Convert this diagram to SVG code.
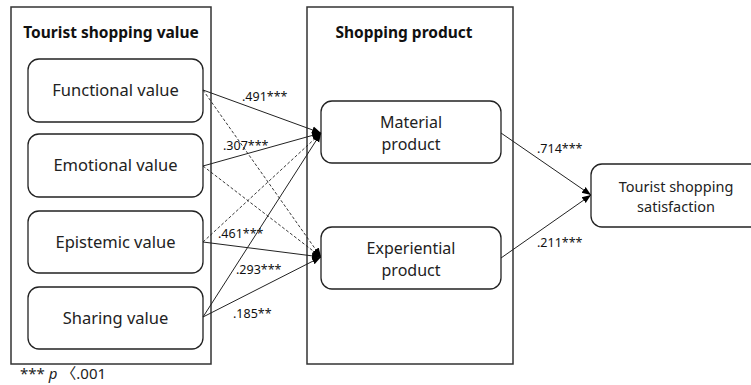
<svg xmlns="http://www.w3.org/2000/svg" width="751" height="385" viewBox="0 0 751 385">
<style>
.cont{fill:none;stroke:#333;stroke-width:1.5}
.box{fill:#fff;stroke:#222;stroke-width:1.3}
.t{font-family:"Noto Sans","Liberation Sans",sans-serif;font-size:16.5px;fill:#222;text-anchor:middle}
.t2{font-family:"Noto Sans","Liberation Sans",sans-serif;font-size:16px;fill:#222;text-anchor:middle}
.title{font-family:"Noto Sans","Liberation Sans",sans-serif;font-size:15.5px;font-weight:bold;fill:#111;text-anchor:middle}
.lab{font-family:"Noto Sans","Liberation Sans",sans-serif;font-size:12.5px;fill:#111}
.s{fill:none;stroke:#222;stroke-width:1}
.d{fill:none;stroke:#222;stroke-width:0.9;stroke-dasharray:3,2}
</style>
<defs>
<marker id="ah" viewBox="0 0 10 10" refX="10" refY="5" markerWidth="9" markerHeight="9" markerUnits="userSpaceOnUse" orient="auto">
<path d="M0,1 L10,5 L0,9 Z" fill="#000"/>
</marker>
</defs>
<rect width="751" height="385" fill="#fff"/>
<g id="container-value">
<rect class="cont" x="11" y="7" width="200" height="357"/>
<text class="title" x="111" y="38">Tourist shopping value</text>
</g>
<g id="container-product">
<rect class="cont" x="307" y="7" width="206" height="357"/>
<text class="title" x="404" y="38">Shopping product</text>
</g>
<g id="functional">
<rect class="box" x="28" y="59" width="175" height="63" rx="11"/>
<text class="t" x="115.5" y="96">Functional value</text>
</g>
<g id="emotional">
<rect class="box" x="28" y="134" width="175" height="63" rx="11"/>
<text class="t" x="115.5" y="171">Emotional value</text>
</g>
<g id="epistemic">
<rect class="box" x="28" y="211" width="175" height="62" rx="11"/>
<text class="t" x="115.5" y="248">Epistemic value</text>
</g>
<g id="sharing">
<rect class="box" x="28" y="287" width="175" height="62" rx="11"/>
<text class="t" x="115.5" y="324">Sharing value</text>
</g>
<g id="material">
<rect class="box" x="321" y="101" width="180" height="62" rx="11"/>
<text class="t2" x="411" y="128">Material</text>
<text class="t2" x="411" y="150">product</text>
</g>
<g id="experiential">
<rect class="box" x="321" y="227" width="180" height="62" rx="11"/>
<text class="t2" x="411" y="254">Experiential</text>
<text class="t2" x="411" y="276">product</text>
</g>
<g id="satisfaction">
<rect class="box" x="591" y="164" width="175" height="63" rx="11"/>
<text class="t" x="676" y="192" style="font-size:14.5px">Tourist shopping</text>
<text class="t" x="676" y="212" style="font-size:14.5px">satisfaction</text>
</g>
<g id="connectors">
<line class="s" x1="203" y1="90" x2="321" y2="133" marker-end="url(#ah)"/>
<line class="s" x1="203" y1="166" x2="321" y2="133" marker-end="url(#ah)"/>
<line class="d" x1="203" y1="242" x2="321" y2="133" marker-end="url(#ah)"/>
<line class="s" x1="203" y1="317" x2="321" y2="133" marker-end="url(#ah)"/>
<line class="d" x1="203" y1="90" x2="321" y2="257" marker-end="url(#ah)"/>
<line class="d" x1="203" y1="166" x2="321" y2="257" marker-end="url(#ah)"/>
<line class="s" x1="203" y1="242" x2="321" y2="257" marker-end="url(#ah)"/>
<line class="s" x1="203" y1="317" x2="321" y2="257" marker-end="url(#ah)"/>
<line class="s" x1="501" y1="133" x2="591" y2="195" marker-end="url(#ah)"/>
<line class="s" x1="501" y1="258" x2="591" y2="195" marker-end="url(#ah)"/>
<text class="lab" x="242" y="101">.491***</text>
<text class="lab" x="223" y="150">.307***</text>
<text class="lab" x="218" y="238">.461***</text>
<text class="lab" x="236" y="274">.293***</text>
<text class="lab" x="233" y="318">.185**</text>
<text class="lab" x="537" y="153">.714***</text>
<text class="lab" x="537" y="247">.211***</text>
</g>
<text x="20" y="379" font-family="'Noto Sans','Noto Sans CJK KR',sans-serif" font-size="15" fill="#222">*** <tspan font-style="italic">p</tspan> 〈.001</text>
</svg>
